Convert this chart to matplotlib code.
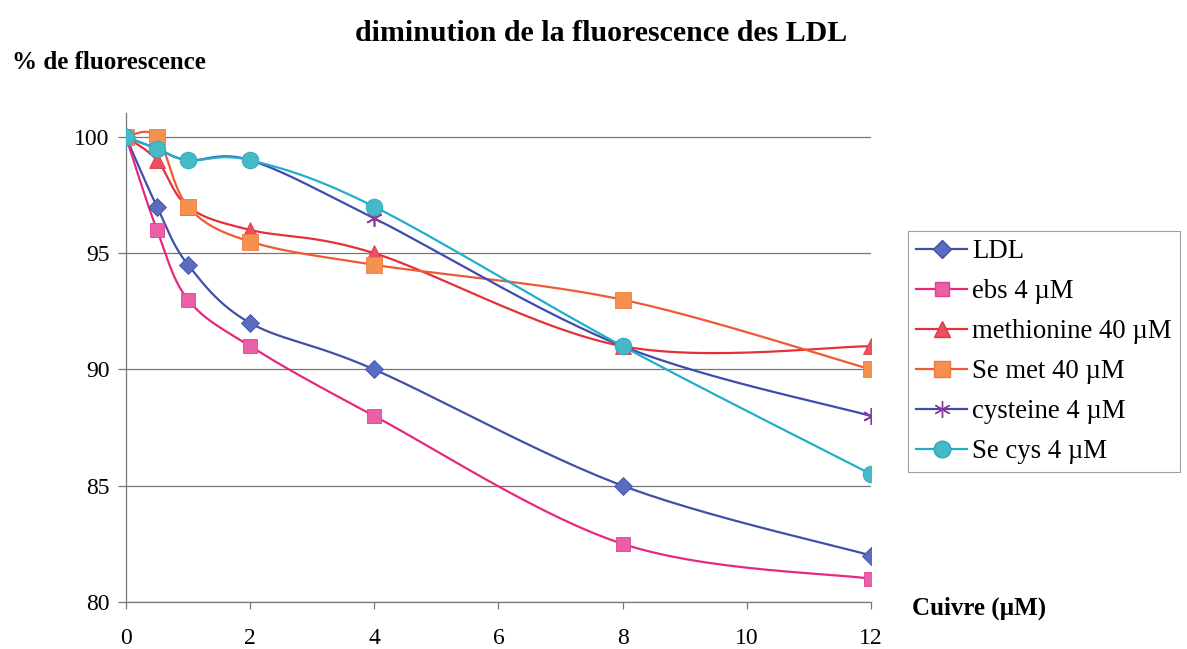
import matplotlib.pyplot as plt
import numpy as np

plt.rcParams['font.family'] = ['Liberation Serif', 'DejaVu Serif']

# concentrations de cuivre (µM)
cuivre = [0, 0.5, 1, 2, 4, 8, 12]

ldl = [100, 97, 94.5, 92, 90, 85, 82]
ebs = [100, 96, 93, 91, 88, 82.5, 81]
methionine = [100, 99, 97, 96, 95, 91, 91]
se_met = [100, 100, 97, 95.5, 94.5, 93, 90]
cysteine = [100, 99.5, 99, 99, 96.5, 91, 88]
se_cys = [100, 99.5, 99, 99, 97, 91, 85.5]

labels = ['LDL', 'ebs 4 µM', 'methionine 40 µM', 'Se met 40 µM',
          'cysteine 4 µM', 'Se cys 4 µM']


def lisse(x, y, n=30):
    """Courbe lissée façon tableur (Bézier, type Catmull-Rom)."""
    p = np.column_stack([x, y]).astype(float)
    pts = np.vstack([p[0], p, p[-1]])
    out = []
    t = np.linspace(0, 1, n)[:, None]
    for i in range(1, len(pts) - 2):
        p0, p1, p2, p3 = pts[i - 1], pts[i], pts[i + 1], pts[i + 2]
        c1 = p1 + (p2 - p0) / 6
        c2 = p2 - (p3 - p1) / 6
        seg = ((1 - t) ** 3) * p1 + 3 * ((1 - t) ** 2) * t * c1 \
            + 3 * (1 - t) * t ** 2 * c2 + t ** 3 * p2
        out.append(seg if i == 1 else seg[1:])
    c = np.vstack(out)
    return c[:, 0], c[:, 1]


fig = plt.figure(figsize=(11.87, 6.49), dpi=100)
ax = fig.add_axes([0.1061, 0.0724, 0.6277, 0.7535])

series = [
    (ldl, '#3F50A8', 'D', '#5A6CC0', '#4050A8', 9),
    (ebs, '#E8287E', 's', '#EA5FA6', '#E04090', 10),
    (methionine, '#E5303A', '^', '#EC5060', '#E03848', 11),
    (se_met, '#EE5A36', 's', '#F5914E', '#F07840', 11),
    (cysteine, '#3D4CB0', (6, 2, 0), '#8A3A9A', '#8A3A9A', 12),
    (se_cys, '#22AECA', 'o', '#45B9C8', '#30A8B8', 12),
]

for (vals, col, mk, mface, medge, ms), lab in zip(series, labels):
    xs, ys = lisse(cuivre, vals)
    ax.plot(xs, ys, color=col, lw=1.6, zorder=3)
    ax.plot(cuivre, vals, ls='none', marker=mk, ms=ms, mfc=mface,
            mec=medge, mew=1.2 if mk == (6, 2, 0) else 0.6, zorder=4)
    ax.plot([], [], color=col, lw=1.6, marker=mk, ms=ms, mfc=mface,
            mec=medge, label=lab)

ax.set_xlim(0, 12)
ax.set_ylim(80, 101.03)
ax.set_xticks([0, 2, 4, 6, 8, 10, 12])
ax.set_yticks([80, 85, 90, 95, 100])
ax.yaxis.grid(True, color='#777777', lw=0.9)
ax.set_axisbelow(True)

for s in ['top', 'right']:
    ax.spines[s].set_visible(False)
for s in ['left', 'bottom']:
    ax.spines[s].set_color('#777777')
    ax.spines[s].set_linewidth(0.9)

ax.tick_params(axis='x', direction='out', length=5, width=0.9,
               color='#777777', pad=14, labelsize=17)
ax.tick_params(axis='y', direction='out', length=6, width=0.9,
               color='#777777', pad=6, labelsize=17)

fig.text(0.506, 0.948, 'diminution de la fluorescence des LDL',
         ha='center', va='center', fontsize=21.5, fontweight='bold')
fig.text(0.010, 0.903, '% de fluorescence', ha='left', va='center',
         fontsize=18, fontweight='bold')
fig.text(0.768, 0.062, 'Cuivre (µM)', ha='left', va='center',
         fontsize=18, fontweight='bold')

leg = ax.legend(loc='upper left', bbox_to_anchor=(1.0497, 0.758),
                fontsize=19.3, frameon=True, fancybox=False,
                handlelength=1.9, handletextpad=0.2, labelspacing=0.56,
                borderpad=0.3, borderaxespad=0)
leg.get_frame().set_edgecolor('#888888')
leg.get_frame().set_linewidth(0.8)

fig.savefig('out.png', dpi=100)
